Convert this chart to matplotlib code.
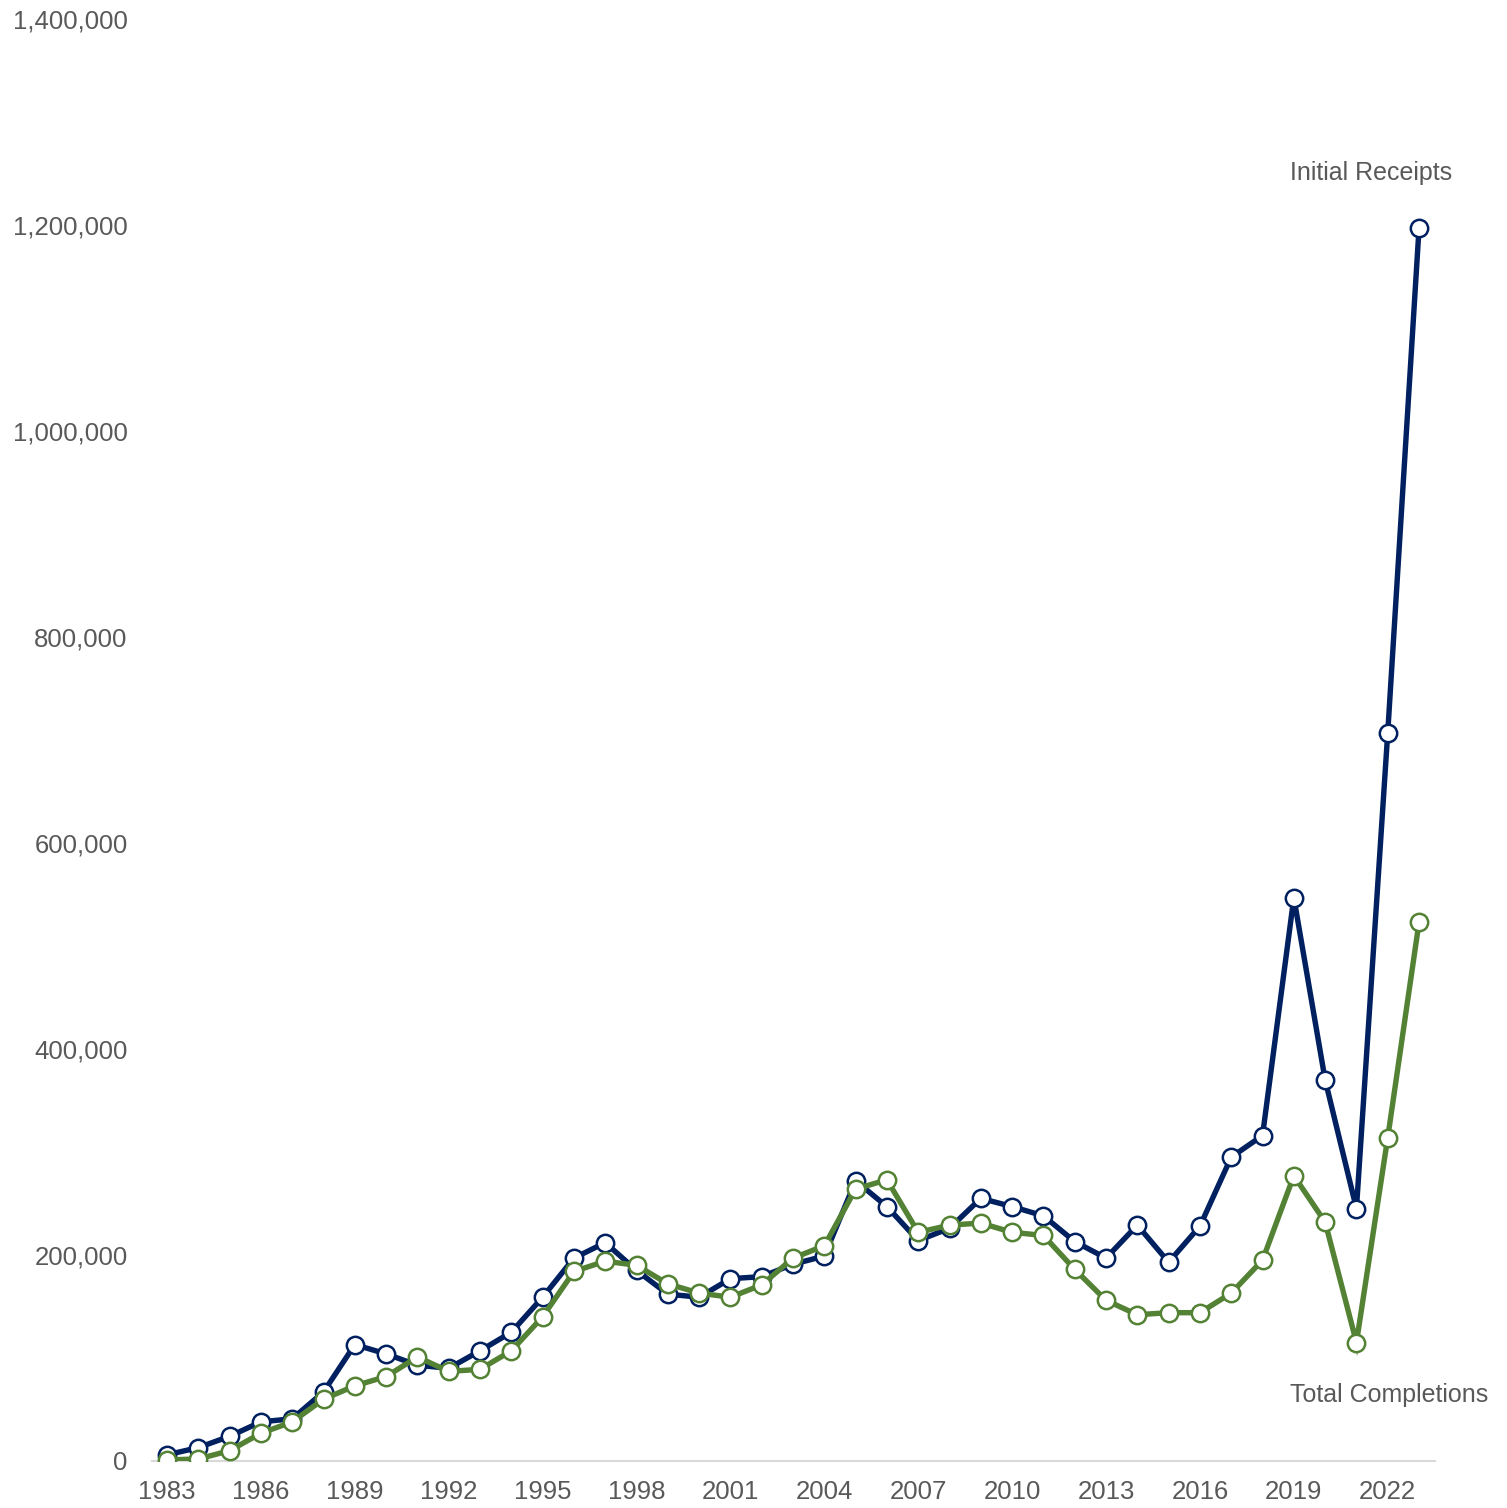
import matplotlib
matplotlib.use("Agg")
import matplotlib.pyplot as plt
from matplotlib.ticker import FuncFormatter, MultipleLocator

years = list(range(1983, 2024))
initial_receipts = [6000, 13000, 24000, 38000, 41000, 67000, 113000, 104000, 93000, 90000,
                    107000, 125000, 159000, 197000, 212000, 185000, 162000, 159000, 177000, 179000,
                    191000, 199000, 272000, 247000, 214000, 226000, 255000, 247000, 238000, 213000,
                    197000, 229000, 193000, 228000, 295000, 316000, 547000, 370000, 245000, 707000,
                    1197000]
total_completions = [1000, 2000, 10000, 27000, 38000, 60000, 73000, 82000, 101000, 87000,
                     89000, 107000, 140000, 184000, 194000, 190000, 172000, 163000, 159000, 171000,
                     197000, 209000, 264000, 273000, 222000, 229000, 231000, 222000, 219000, 186000,
                     156000, 142000, 144000, 144000, 163000, 195000, 277000, 232000, 115000, 314000,
                     523000]
series_labels = ["Initial Receipts", "Total Completions"]

plt.rcParams['font.family'] = ['Liberation Sans', 'DejaVu Sans']
BLUE = "#002060"
GREEN = "#548235"
GRAY = "#595959"

fig = plt.figure(figsize=(15.07, 15.08), dpi=100)
ax = fig.add_axes([152/1507, 1 - 1461/1508, (1435-152)/1507, (1461-19)/1508])

for vals, col in [(initial_receipts, BLUE), (total_completions, GREEN)]:
    ax.plot(years, vals, color=col, lw=3.9, marker='o', markersize=12.5,
            markerfacecolor='white', markeredgecolor=col, markeredgewidth=1.8,
            solid_joinstyle='miter', zorder=3)

ax.set_xlim(1982.52, 2023.51)
ax.set_ylim(0, 1400000)
ax.set_xticks(range(1983, 2024, 3))
ax.yaxis.set_major_locator(MultipleLocator(200000))
ax.yaxis.set_major_formatter(FuncFormatter(lambda v, p: f"{int(v):,}"))

for s in ['top', 'right', 'left']:
    ax.spines[s].set_visible(False)
ax.spines['bottom'].set_color('#D9D9D9')
ax.spines['bottom'].set_linewidth(1.5)
ax.tick_params(axis='both', length=0, labelsize=18.5, labelcolor=GRAY)
ax.tick_params(axis='y', pad=17.5)
ax.tick_params(axis='x', pad=14)

ax.text(2018.88, 1250500, series_labels[0], color=GRAY, fontsize=18, ha='left', va='center')
ax.text(2018.88, 64000, series_labels[1], color=GRAY, fontsize=18, ha='left', va='center')

fig.savefig("out.png", dpi=100)
